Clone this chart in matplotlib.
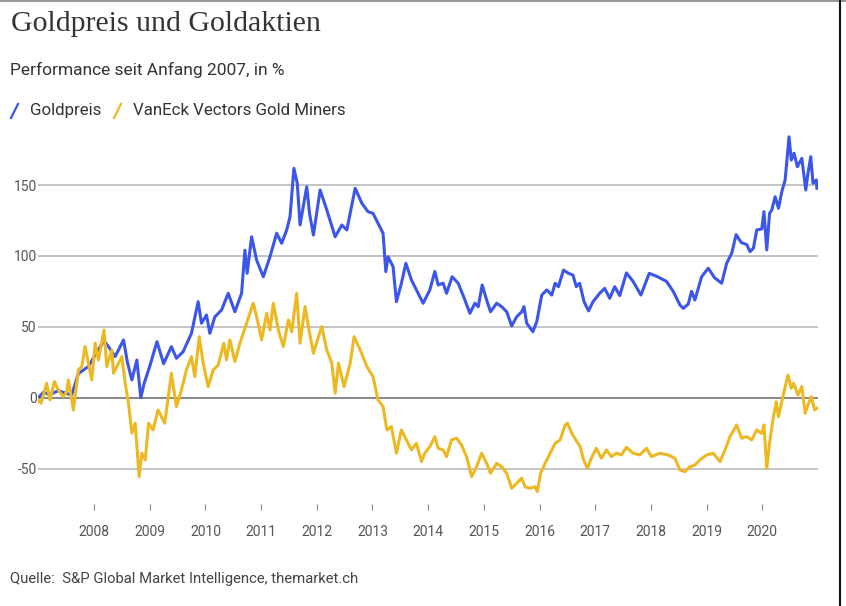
import matplotlib
matplotlib.use("Agg")
from matplotlib import pyplot as plt
from matplotlib.lines import Line2D

TITLE = "Goldpreis und Goldaktien"
SUBTITLE = "Performance seit Anfang 2007, in %"
SOURCE = "Quelle:  S&P Global Market Intelligence, themarket.ch"
series_names = ["Goldpreis", "VanEck Vectors Gold Miners"]

year_ticks = list(range(2008, 2021))
y_ticks = [-50, 0, 50, 100, 150]
y_labels = ["-50", "0", "50", "100", "150"]

# Goldpreis, % since start of 2007 (time in fractional years)
gold_t = [
    2007.00, 2007.10, 2007.20, 2007.36, 2007.50, 2007.60, 2007.72, 2007.90,
    2008.08, 2008.18, 2008.26, 2008.38, 2008.53, 2008.60, 2008.68, 2008.77,
    2008.84, 2008.90, 2009.00, 2009.13, 2009.25, 2009.39, 2009.48, 2009.60,
    2009.75, 2009.87, 2009.93, 2010.02, 2010.08, 2010.17, 2010.29, 2010.41,
    2010.53, 2010.65, 2010.71, 2010.75, 2010.83, 2010.92, 2011.04, 2011.16,
    2011.28, 2011.37, 2011.46, 2011.52, 2011.59, 2011.65, 2011.70, 2011.82,
    2011.87, 2011.94, 2012.06, 2012.18, 2012.33, 2012.45, 2012.54, 2012.69,
    2012.81, 2012.92, 2013.01, 2013.10, 2013.19, 2013.24, 2013.28, 2013.37,
    2013.43, 2013.52, 2013.60, 2013.70, 2013.79, 2013.91, 2014.03, 2014.12,
    2014.18, 2014.27, 2014.33, 2014.43, 2014.54, 2014.66, 2014.75, 2014.84,
    2014.90, 2014.97, 2015.05, 2015.12, 2015.23, 2015.32, 2015.41, 2015.50,
    2015.59, 2015.68, 2015.72, 2015.77, 2015.88, 2015.95, 2016.04, 2016.13,
    2016.22, 2016.28, 2016.34, 2016.43, 2016.52, 2016.60, 2016.66, 2016.72,
    2016.80, 2016.88, 2016.96, 2017.08, 2017.17, 2017.26, 2017.35, 2017.44,
    2017.56, 2017.68, 2017.82, 2017.97, 2018.12, 2018.28, 2018.40, 2018.52,
    2018.58, 2018.67, 2018.73, 2018.79, 2018.91, 2019.03, 2019.14, 2019.27,
    2019.36, 2019.45, 2019.53, 2019.62, 2019.72, 2019.78, 2019.84, 2019.90,
    2019.99, 2020.03, 2020.08, 2020.13, 2020.17, 2020.23, 2020.29, 2020.35,
    2020.41, 2020.48, 2020.52, 2020.57, 2020.63, 2020.71, 2020.78, 2020.82,
    2020.87, 2020.91, 2020.97, 2020.98,
]
gold_pct = [
    0, 4, 2, 5, 3, 2, 17, 22,
    34, 40, 36, 29, 40.7, 25, 12.5, 26.6,
    0, 10, 22, 39.5, 24, 36, 27.8, 32.4,
    45.4, 67.7, 52.5, 58.3, 45.4, 57, 61.8, 73.6,
    60.6, 73.6, 104, 87.7, 113.5, 97, 85.3, 99.4,
    116, 108.9, 118.3, 127.6, 161.8, 151.2, 121.8, 148.8,
    130, 114.7, 146.5, 132.4, 113.5, 121.8, 118.3, 147.7,
    137.1, 131.2, 130, 123, 116, 88.9, 99.4, 92.4,
    67.7, 80.7, 94.8, 83, 76, 66.6, 76, 89,
    79.5, 80.7, 73.6, 85.3, 80.7, 68.9, 59.5, 66.6,
    64.2, 79.5, 68.9, 60.6, 66.6, 64.2, 60.6, 50.6,
    57.1, 60.6, 64.2, 52.5, 46.5, 53.6, 72.4, 76,
    72.4, 80.7, 78.3, 90, 87.7, 86.5, 78.3, 80.7,
    67.7, 61.2, 67.7, 73.6, 77.1, 70.1, 78.3, 72,
    88, 82, 72.4, 87.7, 85.3, 82, 75, 65.4,
    63, 66, 75, 68.9, 85.3, 91.3, 84.7, 80.7,
    94.8, 101.8, 115, 109.5, 108, 103, 105.4, 118.3,
    119, 131.2, 104.2, 130, 132.4, 141.7, 133.6, 145.3,
    153.6, 184, 167.6, 172.4, 162.9, 168.8, 146.5, 158.3,
    170, 151.2, 153.6, 147.7,
]

# VanEck Vectors Gold Miners, % since start of 2007
miners_t = [
    2007.00, 2007.05, 2007.15, 2007.21, 2007.29, 2007.36, 2007.45, 2007.51,
    2007.54, 2007.60, 2007.63, 2007.72, 2007.78, 2007.84, 2007.90, 2007.96,
    2008.02, 2008.08, 2008.18, 2008.23, 2008.32, 2008.35, 2008.44, 2008.50,
    2008.56, 2008.62, 2008.68, 2008.74, 2008.81, 2008.86, 2008.92, 2008.98,
    2009.06, 2009.15, 2009.27, 2009.39, 2009.48, 2009.57, 2009.66, 2009.75,
    2009.81, 2009.89, 2009.96, 2010.05, 2010.14, 2010.23, 2010.33, 2010.38,
    2010.44, 2010.53, 2010.62, 2010.74, 2010.86, 2010.92, 2011.01, 2011.10,
    2011.16, 2011.22, 2011.31, 2011.40, 2011.49, 2011.55, 2011.64, 2011.70,
    2011.79, 2011.85, 2011.94, 2012.03, 2012.09, 2012.18, 2012.27, 2012.33,
    2012.39, 2012.49, 2012.60, 2012.67, 2012.78, 2012.90, 2013.01, 2013.10,
    2013.19, 2013.26, 2013.34, 2013.43, 2013.52, 2013.61, 2013.70, 2013.79,
    2013.88, 2013.94, 2014.03, 2014.12, 2014.18, 2014.27, 2014.33, 2014.42,
    2014.51, 2014.60, 2014.69, 2014.78, 2014.87, 2014.96, 2015.05, 2015.12,
    2015.23, 2015.32, 2015.41, 2015.50, 2015.59, 2015.68, 2015.74, 2015.83,
    2015.92, 2015.96, 2016.02, 2016.10, 2016.19, 2016.28, 2016.37, 2016.46,
    2016.50, 2016.58, 2016.67, 2016.73, 2016.79, 2016.86, 2016.93, 2017.02,
    2017.11, 2017.20, 2017.29, 2017.38, 2017.47, 2017.56, 2017.68, 2017.80,
    2017.92, 2018.01, 2018.16, 2018.31, 2018.43, 2018.52, 2018.61, 2018.70,
    2018.79, 2018.88, 2019.00, 2019.12, 2019.24, 2019.33, 2019.42, 2019.54,
    2019.63, 2019.72, 2019.81, 2019.90, 2019.99, 2020.03, 2020.08, 2020.13,
    2020.19, 2020.25, 2020.29, 2020.37, 2020.46, 2020.52, 2020.56, 2020.64,
    2020.71, 2020.77, 2020.82, 2020.88, 2020.94, 2020.98,
]
miners_pct = [
    -1.6, -4, 10.2, -1.6, 11.3, 5.4, 0.7, 4.2,
    12.5, -1.6, -8.7, 19.5, 21.9, 36, 24.3, 12.5,
    38.4, 26.6, 47.7, 21.9, 33.6, 17.2, 24.3, 28.9,
    10.2, -4, -25.1, -18, -55.7, -39.2, -43.9, -18,
    -22.8, -8.7, -18, 17.2, -6.3, 5.4, 19.5, 28.9,
    14.8, 43, 24.3, 7.8, 19.5, 23, 38.4, 26.6,
    40.7, 25.4, 38.4, 52.5, 66.6, 57.1, 40.7, 59.5,
    47.7, 66.6, 47.7, 36, 54.8, 46.5, 73.6, 38.4,
    64.2, 50.1, 31.3, 43, 50.1, 33.6, 24.3, 3.1,
    24.3, 7.8, 24.3, 43, 33.6, 21.9, 14.8, -1.6,
    -6.3, -22.8, -20.4, -39.2, -22.8, -29.8, -36.9, -32.2,
    -45.1, -39.2, -34.6, -27.5, -35.7, -36.9, -41.6, -29.8,
    -28.6, -33.4, -41.6, -55.7, -48.7, -39.2, -46.3, -53.3,
    -46.3, -48.7, -53.3, -63.9, -60.4, -56.8, -62.8, -63.9,
    -62.8, -66.3, -53.3, -46.3, -39.2, -32.2, -29.8, -19.3,
    -18, -25.1, -31, -34.6, -43.9, -49.8, -42.7, -35.7,
    -42.7, -36.9, -41.6, -39.2, -40.4, -35, -39.2, -40.4,
    -35.7, -41.6, -39.2, -40.4, -42.7, -51, -52.2, -48.7,
    -47.5, -43.9, -40.4, -39.2, -45.1, -36.9, -27.5, -19.3,
    -28.6, -27.5, -29.8, -22.8, -25.1, -19.3, -49.8, -32.2,
    -15.7, -2.8, -13.4, 0.7, 16, 6.6, 10.2, 1.9,
    7.8, -11, -5.1, 0.7, -8.7, -7.5,
]

BLUE = "#3b56e8"
YELLOW = "#ecb923"
TEXT = "#333333"
W, H = 846, 606


def fx(px):
    return px / W


def fy(py):
    return 1 - py / H


fig = plt.figure(figsize=(W / 100, H / 100), dpi=100)
ax = fig.add_axes([fx(38.3), fy(504), fx(818) - fx(38.3), fy(135.4) - fy(504)])

ax.plot(gold_t, gold_pct, color=BLUE, lw=2.2, solid_joinstyle="round", zorder=3)
ax.plot(miners_t, miners_pct, color=YELLOW, lw=2.2, solid_joinstyle="round", zorder=4)

ax.set_xlim(2007, 2021)
ax.set_ylim(-75, 185)

# horizontal gridlines, zero line darker
for v in y_ticks:
    ax.axhline(v, color="#666666" if v == 0 else "#b4b4b4", lw=1.1, zorder=1)

ax.set_yticks(y_ticks, y_labels)
ax.set_xticks(year_ticks, [str(y) for y in year_ticks])
ax.tick_params(axis="y", length=0, pad=1, labelsize=10, labelcolor="#555555")
ax.tick_params(axis="x", length=4.3, width=0.8, color="#888888", pad=10.5,
               labelsize=10, labelcolor="#555555")
for lab in ax.get_xticklabels() + ax.get_yticklabels():
    lab.set_family("Roboto")
for s in ax.spines.values():
    s.set_visible(False)

# header
fig.text(fx(11), fy(24), TITLE, family="Liberation Serif", size=21.5,
         color=TEXT, va="center", ha="left")
fig.text(fx(10), fy(70), SUBTITLE, family="Roboto", size=12.5,
         color=TEXT, va="center", ha="left")

# legend: slash markers + labels
fig.add_artist(Line2D([fx(11), fx(18)], [fy(118), fy(104)], color=BLUE, lw=1.6))
fig.text(fx(30), fy(111), series_names[0], family="Roboto", size=12.2,
         color=TEXT, va="center", ha="left")
fig.add_artist(Line2D([fx(114), fx(121)], [fy(118), fy(104)], color=YELLOW, lw=1.6))
fig.text(fx(133), fy(111), series_names[1], family="Roboto", size=12.2,
         color=TEXT, va="center", ha="left")

fig.text(fx(10), fy(579), SOURCE, family="Roboto", size=10.7,
         color="#444444", va="center", ha="left")

# frame lines of the screenshot
fig.add_artist(Line2D([0, 1], [fy(0.5), fy(0.5)], color="#999999", lw=1.5))
fig.add_artist(Line2D([fx(840), fx(840)], [0, 1], color="#111111", lw=1.5))

fig.savefig("out.png", dpi=100)
